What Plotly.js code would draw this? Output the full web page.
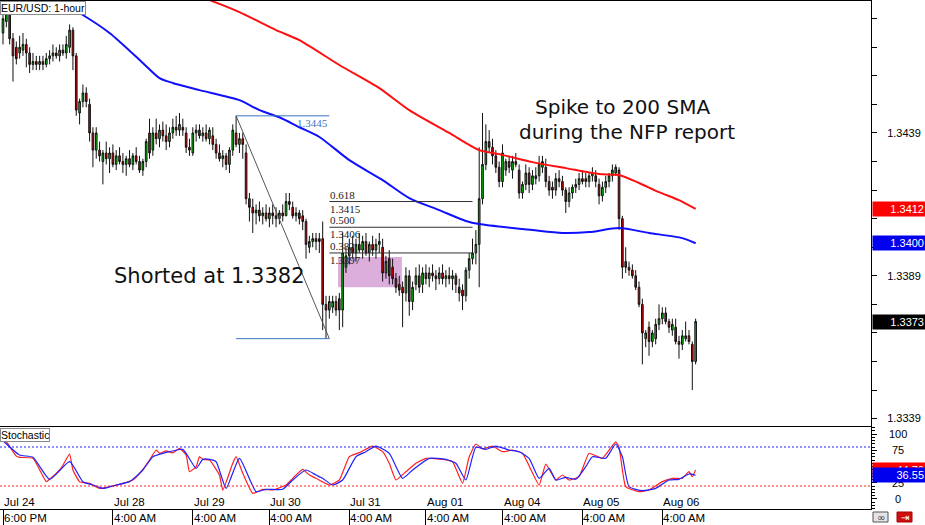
<!DOCTYPE html>
<html><head><meta charset="utf-8">
<script src="https://cdn.plot.ly/plotly-3.0.1.min.js"></script>
<style>html,body{margin:0;padding:0;background:#fff}#chart{width:925px;height:525px}</style>
</head><body><div id="chart"></div>
<script>
// ---------- DATA (EUR/USD 1-hour) ----------
const open = [
1.3474,1.3478,1.3481,1.3472,1.3469,1.3467,1.3468,1.3470,1.3467,1.3463,
1.3464,1.3463,1.3464,1.3463,1.3465,1.3466,1.3467,1.3466,1.3468,1.3467,
1.3469,1.3475,1.3466,1.3446,1.3450,1.3453,1.3449,1.3439,1.3433,1.3433,
1.3429,1.3432,1.3430,1.3432,1.3428,1.3431,1.3429,1.3428,1.3430,1.3428,
1.3431,1.3429,1.3426,1.3429,1.3439,1.3433,1.3439,1.3437,1.3440,1.3438,
1.3436,1.3439,1.3441,1.3440,1.3441,1.3439,1.3434,1.3432,1.3439,1.3440,
1.3438,1.3439,1.3437,1.3438,1.3435,1.3432,1.3430,1.3431,1.3428,1.3433,
1.3439,1.3435,1.3437,1.3432,1.3416,1.3413,1.3411,1.3412,1.3410,1.3411,
1.3409,1.3411,1.3410,1.3409,1.3411,1.3410,1.3415,1.3413,1.3410,1.3411,
1.3410,1.3408,1.3399,1.3401,1.3402,1.3402,1.3402,1.3379,1.3377,1.3378,
1.3380,1.3381,1.3377,1.3392,1.3396,1.3399,1.3397,1.3400,1.3398,1.3401,
1.3397,1.3400,1.3398,1.3400,1.3399,1.3390,1.3395,1.3392,1.3388,1.3386,
1.3385,1.3383,1.3389,1.3380,1.3386,1.3389,1.3386,1.3390,1.3388,1.3390,
1.3389,1.3388,1.3390,1.3388,1.3389,1.3388,1.3389,1.3385,1.3384,1.3382,
1.3391,1.3395,1.3397,1.3400,1.3416,1.3428,1.3436,1.3434,1.3431,1.3427,
1.3422,1.3426,1.3429,1.3426,1.3429,1.3426,1.3418,1.3421,1.3425,1.3421,
1.3424,1.3424,1.3427,1.3427,1.3422,1.3420,1.3419,1.3423,1.3422,1.3419,
1.3415,1.3418,1.3420,1.3421,1.3423,1.3423,1.3422,1.3424,1.3424,1.3421,
1.3417,1.3420,1.3422,1.3424,1.3425,1.3426,1.3409,1.3394,1.3392,1.3391,
1.3389,1.3385,1.3379,1.3367,1.3371,1.3366,1.3367,1.3372,1.3374,1.3376,
1.3373,1.3370,1.3371,1.3366,1.3365,1.3367,1.3368,1.3365,1.3359];
const high = [
1.3481,1.3485,1.3483,1.3474,1.3471,1.3473,1.3474,1.3472,1.3469,1.3467,
1.3466,1.3466,1.3466,1.3467,1.3468,1.3470,1.3469,1.3470,1.3470,1.3473,
1.3477,1.3476,1.3467,1.3451,1.3456,1.3455,1.3451,1.3441,1.3441,1.3436,
1.3433,1.3436,1.3434,1.3435,1.3433,1.3434,1.3432,1.3431,1.3433,1.3432,
1.3434,1.3431,1.3430,1.3437,1.3444,1.3441,1.3444,1.3442,1.3443,1.3442,
1.3441,1.3444,1.3445,1.3446,1.3444,1.3441,1.3437,1.3441,1.3442,1.3442,
1.3441,1.3442,1.3441,1.3441,1.3437,1.3435,1.3433,1.3432,1.3434,1.3442,
1.3445,1.3439,1.3439,1.3435,1.3418,1.3416,1.3414,1.3415,1.3413,1.3414,
1.3413,1.3414,1.3413,1.3412,1.3414,1.3418,1.3418,1.3415,1.3413,1.3412,
1.3412,1.3409,1.3403,1.3404,1.3404,1.3404,1.3408,1.3382,1.3382,1.3382,
1.3382,1.3383,1.3404,1.3399,1.3402,1.3403,1.3402,1.3404,1.3403,1.3404,
1.3401,1.3403,1.3402,1.3404,1.3402,1.3396,1.3398,1.3395,1.3390,1.3389,
1.3387,1.3392,1.3391,1.3387,1.3392,1.3393,1.3392,1.3393,1.3392,1.3393,
1.3391,1.3392,1.3393,1.3391,1.3392,1.3391,1.3390,1.3388,1.3386,1.3392,
1.3397,1.3402,1.3405,1.3434,1.3446,1.3442,1.3440,1.3437,1.3433,1.3429,
1.3435,1.3430,1.3431,1.3431,1.3432,1.3428,1.3422,1.3428,1.3427,1.3426,
1.3427,1.3431,1.3431,1.3430,1.3424,1.3422,1.3425,1.3426,1.3424,1.3420,
1.3420,1.3421,1.3423,1.3425,1.3426,1.3425,1.3425,1.3427,1.3426,1.3423,
1.3422,1.3424,1.3425,1.3428,1.3428,1.3427,1.3410,1.3399,1.3394,1.3393,
1.3391,1.3387,1.3381,1.3370,1.3373,1.3370,1.3374,1.3379,1.3378,1.3378,
1.3374,1.3374,1.3374,1.3368,1.3370,1.3373,1.3370,1.3366,1.3374];
const low = [
1.3470,1.3476,1.3470,1.3457,1.3463,1.3465,1.3466,1.3462,1.3460,1.3461,
1.3461,1.3461,1.3461,1.3462,1.3463,1.3464,1.3465,1.3464,1.3466,1.3465,
1.3467,1.3461,1.3445,1.3442,1.3448,1.3448,1.3436,1.3427,1.3430,1.3429,
1.3421,1.3428,1.3425,1.3427,1.3426,1.3428,1.3425,1.3424,1.3427,1.3426,
1.3428,1.3425,1.3424,1.3427,1.3430,1.3431,1.3435,1.3434,1.3436,1.3433,
1.3434,1.3437,1.3438,1.3438,1.3438,1.3432,1.3431,1.3431,1.3436,1.3437,
1.3436,1.3436,1.3435,1.3433,1.3430,1.3429,1.3427,1.3426,1.3425,1.3431,
1.3434,1.3432,1.3430,1.3414,1.3408,1.3404,1.3407,1.3408,1.3407,1.3408,
1.3406,1.3407,1.3406,1.3407,1.3408,1.3410,1.3412,1.3409,1.3408,1.3407,
1.3405,1.3395,1.3397,1.3399,1.3398,1.3397,1.3370,1.3367,1.3374,1.3376,
1.3375,1.3370,1.3371,1.3390,1.3393,1.3395,1.3394,1.3397,1.3395,1.3396,
1.3394,1.3396,1.3395,1.3397,1.3387,1.3388,1.3386,1.3386,1.3383,1.3382,
1.3371,1.3380,1.3375,1.3377,1.3384,1.3383,1.3383,1.3386,1.3385,1.3387,
1.3384,1.3386,1.3386,1.3385,1.3386,1.3384,1.3383,1.3380,1.3377,1.3380,
1.3388,1.3393,1.3393,1.3385,1.3414,1.3426,1.3432,1.3428,1.3425,1.3420,
1.3420,1.3424,1.3425,1.3423,1.3427,1.3416,1.3416,1.3419,1.3418,1.3419,
1.3421,1.3422,1.3425,1.3420,1.3417,1.3416,1.3417,1.3420,1.3417,1.3411,
1.3413,1.3416,1.3418,1.3419,1.3421,1.3420,1.3420,1.3422,1.3420,1.3414,
1.3415,1.3418,1.3420,1.3422,1.3424,1.3405,1.3388,1.3390,1.3389,1.3388,
1.3384,1.3378,1.3358,1.3364,1.3361,1.3364,1.3365,1.3370,1.3372,1.3372,
1.3369,1.3368,1.3365,1.3360,1.3363,1.3366,1.3365,1.3349,1.3358];
const close = [
1.3479,1.3481,1.3472,1.3466,1.3465,1.3469,1.3470,1.3467,1.3463,1.3464,
1.3463,1.3464,1.3463,1.3465,1.3466,1.3467,1.3466,1.3468,1.3467,1.3470,
1.3475,1.3466,1.3447,1.3450,1.3453,1.3450,1.3439,1.3433,1.3439,1.3431,
1.3432,1.3430,1.3432,1.3428,1.3431,1.3429,1.3428,1.3430,1.3428,1.3431,
1.3429,1.3426,1.3429,1.3436,1.3432,1.3439,1.3437,1.3440,1.3438,1.3436,
1.3439,1.3441,1.3440,1.3442,1.3440,1.3434,1.3433,1.3439,1.3440,1.3438,
1.3439,1.3437,1.3440,1.3435,1.3432,1.3430,1.3431,1.3428,1.3433,1.3440,
1.3435,1.3437,1.3435,1.3416,1.3413,1.3411,1.3412,1.3410,1.3411,1.3409,
1.3411,1.3410,1.3409,1.3411,1.3410,1.3415,1.3414,1.3410,1.3411,1.3409,
1.3408,1.3400,1.3401,1.3402,1.3401,1.3401,1.3379,1.3377,1.3380,1.3380,
1.3377,1.3377,1.3397,1.3396,1.3399,1.3397,1.3400,1.3398,1.3401,1.3397,
1.3400,1.3398,1.3400,1.3401,1.3390,1.3394,1.3389,1.3388,1.3385,1.3384,
1.3383,1.3389,1.3380,1.3385,1.3389,1.3385,1.3390,1.3388,1.3390,1.3389,
1.3388,1.3390,1.3388,1.3389,1.3388,1.3389,1.3386,1.3383,1.3382,1.3391,
1.3395,1.3397,1.3400,1.3416,1.3428,1.3436,1.3434,1.3431,1.3427,1.3422,
1.3432,1.3429,1.3427,1.3429,1.3428,1.3418,1.3421,1.3425,1.3421,1.3424,
1.3423,1.3428,1.3429,1.3422,1.3419,1.3419,1.3423,1.3422,1.3419,1.3415,
1.3418,1.3420,1.3421,1.3423,1.3422,1.3422,1.3424,1.3425,1.3422,1.3417,
1.3420,1.3422,1.3424,1.3426,1.3427,1.3409,1.3392,1.3392,1.3391,1.3389,
1.3385,1.3379,1.3369,1.3369,1.3366,1.3369,1.3372,1.3374,1.3376,1.3373,
1.3371,1.3372,1.3366,1.3365,1.3368,1.3368,1.3366,1.3359,1.3373];

// moving averages (read at sample bars)
const sma100Bar = [12,16,23,32,42,47,51,59,71,77,83,89,95,104,114,122,131,139,143,159,168,176,185,194,204,208];
const sma100 = [1.3488,1.34855,1.3481,1.3474,1.34635,1.34582,1.34565,1.3454,1.34505,1.3447,1.34445,1.3441,1.34376,1.34295,1.34225,1.34162,1.3412,1.34082,1.34071,1.3405,1.3404,1.34043,1.34057,1.3404,1.34022,1.34004];
const sma200Bar = [55,62,71,82,89,101,113,122,134,143,149,159,169,179,185,191,197,203,208];
const sma200 = [1.34883,1.34855,1.34813,1.3475,1.34715,1.34628,1.34547,1.3447,1.3439,1.3433,1.34316,1.34288,1.34267,1.34246,1.34243,1.34215,1.34183,1.34155,1.34124];

// stochastic (read at sample bars)
const stochKBar = [0,1,4,5,9,13,14,17,18,20,21,23,26,29,32,36,39,41,44,46,47,49,51,53,55,56,58,59,60,62,65,66,69,70,72,75,78,81,85,87,90,92,94,98,101,104,107,111,114,116,118,121,124,127,132,135,138,140,142,144,147,150,153,156,161,163,166,168,170,173,176,180,184,185,187,191,194,198,201,204,206,207,208];
const stochK = [89.7,88,66,64.1,62.6,26.7,30.3,44.6,52,69,44.6,26.7,24,16.4,19,24,29.2,39,60,75.4,70.3,74,71,77.9,67.7,42,49.7,65.1,61,60,36.9,13.8,54.9,65.1,39.5,8.7,14.9,14,21.5,31.8,45.6,36.9,31.8,21.5,29.2,65.1,71.3,81.5,72.8,54.9,29.2,42,54.9,62.6,61,57.4,24,65.1,84.6,77,81.5,72.8,75.4,70.3,21.5,53.8,29.2,36.9,29.2,34.4,70.3,62.6,88,80,18.9,11.3,13.8,26.7,31.8,31.8,42,34.4,44.79];
const stochDBar = [0,5,9,14,20,24,27,30,34,38,42,45,48,50,54,58,60,62,64,67,71,76,79,84,87,91,94,96,99,102,106,109,112,116,120,123,128,133,136,139,142,145,148,152,155,158,161,164,166,169,172,175,177,181,184,186,188,192,196,200,203,206,208];
const stochD = [89.7,67.7,64.1,30.3,57.4,26.7,21.5,16.4,21.5,26.7,44.6,65.1,70.3,72.8,76.4,47.2,61,61,57.4,16.4,62.6,11.3,14.9,14.9,29.2,44.6,36.9,31.8,21.5,29.2,65.1,72.8,81.5,70.3,31.8,44.6,62.6,61,54.9,29.2,79.5,76.4,81.5,75.4,72.8,62.6,31.8,47.2,29.2,33.3,30.3,49.7,65.1,62.6,84.6,65.1,18.9,12.8,16.4,29.2,30.3,38.5,36.55];
const stochLevels = [80, 20];
const stochLabelVals = [0, 25, 75, 100];   // "50" is hidden behind the value tags in the reference

// axis labels
const dateTickBar = [0, 33, 57, 80, 104, 127, 150, 174, 198];
const dateLabels = ['Jul 24','Jul 28','Jul 29','Jul 30','Jul 31','Aug 01','Aug 04','Aug 05','Aug 06'];
const timeLabels = ['6:00 PM','4:00 AM','4:00 AM','4:00 AM','4:00 AM','4:00 AM','4:00 AM','4:00 AM','4:00 AM'];
const yTickVals = [1.3339,1.3349,1.3359,1.3369,1.3379,1.3389,1.3399,1.3409,1.3419,1.3429,1.3439,1.3449,1.3459,1.3469,1.3479];
const yTickText = ['1.3339','','','','','1.3389','','','','','1.3439','','','',''];

// fibonacci drawing and entry zone
const fibHigh = 1.3445, fibLow = 1.3367;
const fibSwingBars = [70, 98];
const fibLevelEndBar = 141;
const fibRatios = [0.618, 0.5, 0.382];
const fibPrices = [1.3415, 1.3406, 1.3397];
const entryZoneBars = [100.6, 119.8];
const entryZonePrices = [1.3385, 1.33956];

// ---------- LAYOUT ----------
const PW = 871, PTOP = 1, PBOT = 509;
const pxX = px => px / PW;
const pxY = py => (PBOT - py) / (PBOT - PTOP);
const mainRange = [1.33366, 1.34852];
const stochRange = [-15.4, 110.8];
const xRange = [-0.9, 260.66];
const FONT = 'Liberation Sans, Arial, sans-serif';
const HAND = 'DejaVu Sans, sans-serif';

const barIdx = open.map((_, i) => i);

const traces = [
  {type:'candlestick', x:barIdx, open:open, high:high, low:low, close:close,
   xaxis:'x', yaxis:'y', whiskerwidth:0, hoverinfo:'skip',
   increasing:{line:{color:'#111', width:1}, fillcolor:'#00d000'},
   decreasing:{line:{color:'#111', width:1}, fillcolor:'#dd0000'}},
  {type:'scatter', mode:'lines', x:sma100Bar, y:sma100, xaxis:'x', yaxis:'y',
   line:{color:'#1010ff', width:2, shape:'spline', smoothing:0.7}, hoverinfo:'skip'},
  {type:'scatter', mode:'lines', x:sma200Bar, y:sma200, xaxis:'x', yaxis:'y',
   line:{color:'#ff1010', width:2, shape:'spline', smoothing:0.7}, hoverinfo:'skip'},
  {type:'scatter', mode:'lines', x:stochKBar, y:stochK, xaxis:'x2', yaxis:'y2',
   line:{color:'#ff2020', width:1.2, shape:'spline', smoothing:0.4}, hoverinfo:'skip'},
  {type:'scatter', mode:'lines', x:stochDBar, y:stochD, xaxis:'x2', yaxis:'y2',
   line:{color:'#2020ff', width:1.2, shape:'spline', smoothing:0.5}, hoverinfo:'skip'}
];

const shapes = [];
shapes.push({type:'rect', xref:'x', yref:'y', layer:'below',
  x0:entryZoneBars[0], x1:entryZoneBars[1], y0:entryZonePrices[0], y1:entryZonePrices[1],
  fillcolor:'rgba(214,160,214,0.85)', line:{width:0}});
shapes.push({type:'line', xref:'x', yref:'y', x0:fibSwingBars[0], x1:fibSwingBars[1], y0:fibHigh, y1:fibHigh, line:{color:'#3a74c0', width:1}});
shapes.push({type:'line', xref:'x', yref:'y', x0:fibSwingBars[0], x1:fibSwingBars[1], y0:fibLow, y1:fibLow, line:{color:'#3a74c0', width:1}});
shapes.push({type:'line', xref:'x', yref:'y', x0:fibSwingBars[0], x1:fibSwingBars[1], y0:fibHigh, y1:fibLow, line:{color:'#555', width:1}});
fibPrices.forEach(p => shapes.push({type:'line', xref:'x', yref:'y', x0:fibSwingBars[1], x1:fibLevelEndBar, y0:p, y1:p, line:{color:'#333', width:1}}));
stochLevels.forEach((lv, i) => shapes.push({type:'line', xref:'paper', yref:'y2', x0:0, x1:1, y0:lv, y1:lv,
  line:{color: i === 0 ? '#2020ff' : '#ff2020', width:1, dash:'2px,2px'}}));
shapes.push({type:'rect', xref:'paper', yref:'paper', x0:pxX(873), x1:pxX(888), y0:pxY(522), y1:pxY(512), fillcolor:'#e4e4e4', line:{color:'#555', width:1}});
shapes.push({type:'rect', xref:'paper', yref:'paper', x0:pxX(897), x1:pxX(912), y0:pxY(522), y1:pxY(512), fillcolor:'#cc1010', line:{color:'#aa0000', width:1}});

const ann = [];
ann.push({xref:'paper', yref:'paper', x:0, y:1, xanchor:'left', yanchor:'top', text:'EUR/USD: 1-hour', showarrow:false,
  font:{family:FONT, size:10.5, color:'#000'}, bgcolor:'#fff', bordercolor:'#8a8a8a', borderwidth:1, borderpad:0});
ann.push({xref:'paper', yref:'paper', x:0, y:pxY(428), xanchor:'left', yanchor:'top', text:'Stochastic', showarrow:false,
  font:{family:FONT, size:10.5, color:'#000'}, bgcolor:'#fff', bordercolor:'#8a8a8a', borderwidth:1, borderpad:0});
ann.push({xref:'x', yref:'y', x:fibSwingBars[1], y:fibHigh, xanchor:'right', yanchor:'top', text:fibHigh.toFixed(4), showarrow:false,
  font:{family:'Liberation Serif, serif', size:11, color:'#3a74c0'}, borderpad:0});
fibRatios.forEach((r, i) => {
  ann.push({xref:'x', yref:'y', x:fibSwingBars[1], y:fibPrices[i], xanchor:'left', yanchor:'bottom', text:r.toFixed(3), showarrow:false,
    font:{family:'Liberation Serif, serif', size:11, color:'#222'}, borderpad:0});
  ann.push({xref:'x', yref:'y', x:fibSwingBars[1], y:fibPrices[i], xanchor:'left', yanchor:'top', text:fibPrices[i].toFixed(4), showarrow:false,
    font:{family:'Liberation Serif, serif', size:11, color:'#222'}, borderpad:0});
});
ann.push({xref:'paper', yref:'paper', x:pxX(209), y:pxY(276), xanchor:'center', yanchor:'middle', text:'Shorted at 1.3382', showarrow:false,
  font:{family:HAND, size:21, color:'#111'}});
ann.push({xref:'paper', yref:'paper', x:pxX(622), y:pxY(107.5), xanchor:'center', yanchor:'middle', text:'Spike to 200 SMA', showarrow:false,
  font:{family:HAND, size:20, color:'#111'}, borderpad:0});
ann.push({xref:'paper', yref:'paper', x:pxX(627), y:pxY(131.5), xanchor:'center', yanchor:'middle', text:'during the NFP report', showarrow:false,
  font:{family:HAND, size:20, color:'#111'}, borderpad:0});
dateTickBar.forEach((b, i) => {
  ann.push({xref:'x2', yref:'paper', x:b, y:0, xanchor:'left', yanchor:'bottom', text:dateLabels[i], showarrow:false,
    font:{family:FONT, size:11.5, color:'#000'}, borderpad:0});
  ann.push({xref:'x2', yref:'paper', x:b, y:0, yshift:-2, xanchor:'left', yanchor:'top', text:timeLabels[i], showarrow:false,
    font:{family:FONT, size:11.5, color:'#000'}, borderpad:0});
});
stochLabelVals.forEach(v => ann.push({xref:'paper', yref:'y2', x:1, xshift:27, y:v, xanchor:'center', yanchor:'middle',
  text:String(v), showarrow:false, font:{family:FONT, size:11, color:'#000'}, borderpad:0}));
const tag = (yref, val, txt, bg) => ({xref:'paper', yref:yref, x:1, xshift:1, y:val, xanchor:'left', yanchor:'middle',
  text:txt, showarrow:false, width:50, height:12, align:'right', bgcolor:bg, borderpad:1,
  font:{family:FONT, size:11, color:'#fff'}});
ann.push(tag('y', sma200[sma200.length-1], sma200[sma200.length-1].toFixed(4), '#ff0000'));
ann.push(tag('y', sma100[sma100.length-1], sma100[sma100.length-1].toFixed(4), '#0000ee'));
ann.push(tag('y', close[close.length-1], close[close.length-1].toFixed(4), '#000000'));
ann.push(tag('y2', stochK[stochK.length-1], stochK[stochK.length-1].toFixed(2), '#ff0000'));
ann.push(tag('y2', stochD[stochD.length-1], stochD[stochD.length-1].toFixed(2), '#0000ee'));
ann.push({xref:'paper', yref:'paper', x:pxX(880.5), y:pxY(517), xanchor:'center', yanchor:'middle', text:'∞', showarrow:false,
  font:{family:'DejaVu Sans', size:10, color:'#333'}, borderpad:0});
ann.push({xref:'paper', yref:'paper', x:pxX(904.5), y:pxY(517), xanchor:'center', yanchor:'middle', text:'⇥', showarrow:false,
  font:{family:'DejaVu Sans', size:10, color:'#fff'}, borderpad:0});

const axBase = {showgrid:false, zeroline:false, linecolor:'#000', linewidth:1, tickcolor:'#000', fixedrange:true};
const layout = {
  width:925, height:525,
  margin:{l:0, r:54, t:PTOP, b:525-PBOT, pad:0},
  paper_bgcolor:'#fff', plot_bgcolor:'#fff',
  showlegend:false, hovermode:false, boxgap:0.3,
  xaxis:Object.assign({}, axBase, {domain:[0,1], anchor:'y', range:xRange, showline:true, mirror:true,
    showticklabels:false, ticks:'', rangeslider:{visible:false}}),
  yaxis:Object.assign({}, axBase, {domain:[pxY(425.5),1], anchor:'x', range:mainRange, side:'right', showline:true,
    tickmode:'array', tickvals:yTickVals, ticktext:yTickText, ticks:'outside', ticklen:5,
    tickfont:{family:FONT, size:11, color:'#000'}, ticklabelstandoff:8}),
  yaxis3:Object.assign({}, axBase, {overlaying:'y', anchor:'x', side:'left', range:mainRange, showline:false,
    tickmode:'array', tickvals:yTickVals, ticks:'inside', ticklen:5, showticklabels:false}),
  xaxis2:Object.assign({}, axBase, {domain:[0,1], anchor:'y2', range:xRange, showline:true, mirror:true,
    tickmode:'array', tickvals:dateTickBar, ticks:'outside', ticklen:16, showticklabels:false}),
  yaxis2:Object.assign({}, axBase, {domain:[0,pxY(427)], anchor:'x2', range:stochRange, side:'right', showline:true,
    tickmode:'linear', tick0:0, dtick:25, ticks:'outside', ticklen:5, showticklabels:false,
    minor:{ticks:'outside', ticklen:3, dtick:5, tickcolor:'#000'}}),
  yaxis4:Object.assign({}, axBase, {overlaying:'y2', anchor:'x2', side:'left', range:stochRange, showline:false,
    tickmode:'linear', tick0:0, dtick:25, ticks:'inside', ticklen:4, showticklabels:false,
    minor:{ticks:'inside', ticklen:2, dtick:5, tickcolor:'#000'}}),
  shapes:shapes,
  annotations:ann
};

Plotly.newPlot('chart', traces, layout, {staticPlot:true, displayModeBar:false});
</script></body></html>
